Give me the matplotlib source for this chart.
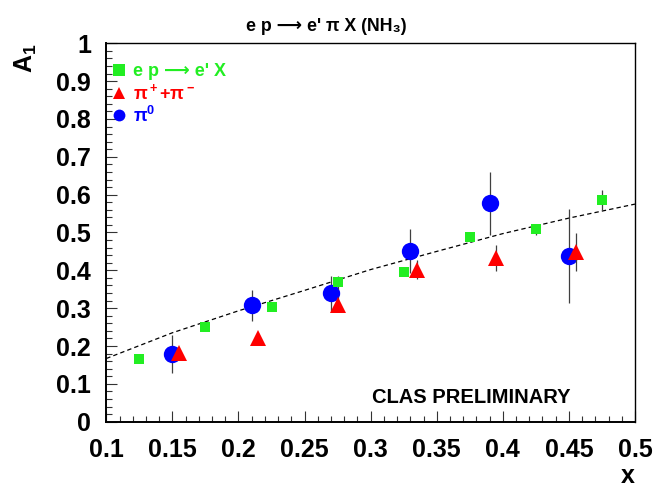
import numpy as np
import matplotlib
matplotlib.use('Agg')
import matplotlib.pyplot as plt
from matplotlib.lines import Line2D
from matplotlib.ticker import MultipleLocator

plt.rcParams['font.family'] = ['Liberation Sans', 'DejaVu Sans']
plt.rcParams['font.weight'] = 'bold'
plt.rcParams['mathtext.fontset'] = 'custom'
plt.rcParams['mathtext.rm'] = 'Liberation Sans:bold'
plt.rcParams['mathtext.it'] = 'Liberation Sans:bold'
plt.rcParams['mathtext.bf'] = 'Liberation Sans:bold'
plt.rcParams['mathtext.default'] = 'rm'

# inclusive e p -> e' X
x_incl = [0.125, 0.175, 0.225, 0.275, 0.325, 0.375, 0.425, 0.475]
a1_incl = [0.166, 0.249, 0.302, 0.368, 0.396, 0.487, 0.508, 0.586]
err_incl = [0.008, 0.008, 0.010, 0.018, 0.012, 0.012, 0.015, 0.027]

# pi+ + pi-
x_pipm = [0.155, 0.215, 0.275, 0.335, 0.395, 0.455]
a1_pipm = [0.181, 0.220, 0.309, 0.402, 0.433, 0.448]
err_pipm = [0.012, 0.015, 0.020, 0.025, 0.034, 0.051]

# pi0
x_pi0 = [0.15, 0.21, 0.27, 0.33, 0.39, 0.45]
a1_pi0 = [0.178, 0.308, 0.339, 0.450, 0.577, 0.437]
err_pi0 = [0.050, 0.041, 0.047, 0.058, 0.083, 0.124]

# dashed parametrisation
x_fit = [0.10, 0.15, 0.20, 0.25, 0.30, 0.35, 0.40, 0.45, 0.50]
a1_fit = [0.167, 0.235, 0.293, 0.347, 0.402, 0.450, 0.497, 0.538, 0.575]

GREEN = '#22ee22'
RED = '#ff0000'
BLUE = '#0000ff'
ERRC = '#404040'

fig = plt.figure(figsize=(6.53, 4.88), dpi=100)
ax = fig.add_axes([0.1628, 0.1359, 0.8096, 0.7754])

ax.plot(x_fit, a1_fit, color='black', linestyle=(0, (3.5, 2.5)), linewidth=0.9, zorder=1)

ax.errorbar(x_pi0, a1_pi0, yerr=err_pi0, fmt='o', color=BLUE, ms=12.5,
            ecolor=ERRC, elinewidth=0.9, capsize=0, mew=0, zorder=2)
ax.errorbar(x_incl, a1_incl, yerr=err_incl, fmt='s', color=GREEN, ms=6.5,
            ecolor=ERRC, elinewidth=0.9, capsize=0, mew=0, zorder=3)
ax.errorbar(x_pipm, a1_pipm, yerr=err_pipm, fmt='^', color=RED, ms=12,
            ecolor=ERRC, elinewidth=0.9, capsize=0, mew=0, zorder=4)

ax.set_xlim(0.1, 0.5)
ax.set_ylim(0, 1)
ax.xaxis.set_minor_locator(MultipleLocator(0.01))
ax.yaxis.set_minor_locator(MultipleLocator(0.02))
ax.set_xticks(np.round(np.arange(0.1, 0.501, 0.05), 2))
ax.set_xticklabels(['0.1', '0.15', '0.2', '0.25', '0.3', '0.35', '0.4', '0.45', '0.5'])
ax.set_yticks(np.round(np.arange(0, 1.001, 0.1), 1))
ax.set_yticklabels(['0', '0.1', '0.2', '0.3', '0.4', '0.5', '0.6', '0.7', '0.8', '0.9', '1'])

ax.tick_params(which='both', direction='in', color='#333333', width=0.8,
               top=False, right=False, labelsize=18)
ax.tick_params(which='major', length=8)
ax.tick_params(which='minor', length=4.5)
ax.tick_params(axis='x', pad=12)
ax.tick_params(axis='y', pad=11)
for side in ['left', 'bottom']:
    ax.spines[side].set_linewidth(1.4)
for side in ['right', 'top']:
    ax.spines[side].set_linewidth(1.0)

ax.set_xlabel('x', fontsize=18, fontweight='bold', loc='right')
ax.xaxis.set_label_coords(1.0, -0.111)
ax.set_ylabel('A$_1$', fontsize=18, fontweight='bold', loc='top')
ax.yaxis.set_label_coords(-0.128, 1.0)

fig.text(0.5, 1 - 30.7 / 488, "e p \u27f6 e' \u03c0 X (NH\u2083)", fontsize=12.8,
         ha='center', va='baseline')

ax.text(0.502, 0.0486, 'CLAS PRELIMINARY', transform=ax.transAxes, fontsize=14.5,
        ha='left', va='baseline')

handles = [
    Line2D([], [], marker='s', color=GREEN, linestyle='none', ms=8.6, mew=0),
    Line2D([], [], marker='^', color=RED, linestyle='none', ms=8.6, mew=0),
    Line2D([], [], marker='o', color=BLUE, linestyle='none', ms=8.5, mew=0),
]
labels = ["e p \u27f6 e' X", '\u03c0$^+$+\u03c0$^-$', '\u03c0$^0$']
ax.legend(handles, labels, loc='upper left', bbox_to_anchor=(0.0, 0.961),
          frameon=False, fontsize=13, borderpad=0.3, borderaxespad=0,
          handlelength=0.84, handletextpad=0.36, labelspacing=0.14,
          labelcolor=[GREEN, RED, BLUE])

plt.savefig('out.png', dpi=100)
